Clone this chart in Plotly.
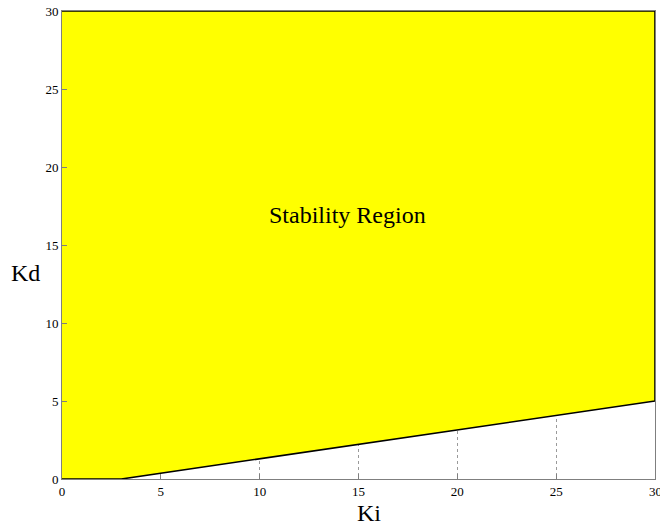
import plotly.graph_objects as go

# Stability boundary in the (Ki, Kd) plane
ki_boundary = [0, 3, 30]
kd_boundary = [0, 0, 5]
ki_range = [0, 30]
kd_range = [0, 30]
tick_vals = [0, 5, 10, 15, 20, 25, 30]

# closed polygon: boundary curve, then up to the top of the plotted window
poly_x = ki_boundary + [ki_range[1], ki_range[0]]
poly_y = kd_boundary + [kd_range[1], kd_range[1]]

fig = go.Figure()
fig.add_trace(go.Scatter(
    x=poly_x, y=poly_y, mode="lines", fill="toself",
    fillcolor="#ffff00", line=dict(color="black", width=1.6),
    hoverinfo="skip", showlegend=False,
))

font = dict(family="Liberation Serif, Times New Roman, serif", color="black")

axis_common = dict(
    showgrid=True, gridcolor="#9a9a9a", griddash="dot", gridwidth=1,
    showline=True, linecolor="#7f7f7f", linewidth=1, mirror=True,
    ticks="inside", ticklen=5, tickcolor="#7f7f7f",
    tickvals=tick_vals, zeroline=False,
    tickfont=dict(size=13, **font),
)

fig.update_layout(
    width=660, height=529,
    margin=dict(l=62, r=4, t=9, b=50),
    paper_bgcolor="white", plot_bgcolor="white",
    xaxis=dict(range=ki_range, **axis_common),
    yaxis=dict(range=kd_range, **axis_common),
    annotations=[
        dict(text="Stability Region", x=14.45, y=16.9, xref="x", yref="y",
             showarrow=False, font=dict(size=24, **font)),
        dict(text="Ki", x=0.518, y=-0.072, xref="paper", yref="paper",
             xanchor="center", yanchor="middle", showarrow=False,
             font=dict(size=24, **font)),
        dict(text="Kd", x=-0.062, y=0.44, xref="paper", yref="paper",
             xanchor="center", yanchor="middle", showarrow=False,
             font=dict(size=24, **font)),
        # last x tick label sits on the right edge of the page
        dict(text=str(tick_vals[-1]), x=tick_vals[-1], y=0, xref="x", yref="paper",
             xanchor="center", yanchor="top", yshift=-3, showarrow=False,
             font=dict(size=13, **font)),
    ],
)

fig.write_html("out.html")
